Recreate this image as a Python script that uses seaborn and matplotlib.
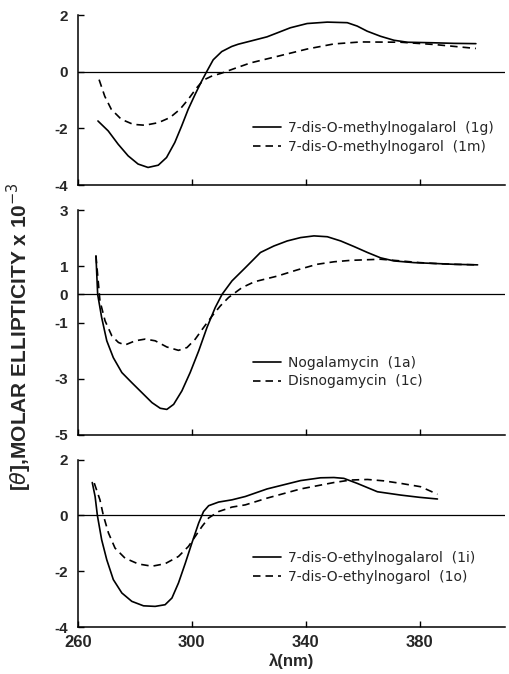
import numpy as np
import pandas as pd
import seaborn as sns
import matplotlib
matplotlib.use("Agg")
import matplotlib.pyplot as plt

# CD spectra: wavelength (nm) and [theta] x 10^-3
# top panel
nm_1g = [267.0, 270.6, 274.1, 277.6, 281.1, 284.6, 288.2, 291.1, 294.0, 296.4,
         298.7, 301.1, 303.4, 305.2, 307.5, 310.5, 314.0, 316.3, 320.6, 326.4,
         330.0, 334.6, 340.5, 347.6, 354.6, 358.1, 361.6, 366.3, 371.0, 375.7,
         385.1, 392.0, 399.8]
val_1g = [-1.74, -2.09, -2.56, -2.97, -3.26, -3.38, -3.30, -3.03, -2.50, -1.92,
          -1.33, -0.81, -0.34, 0.00, 0.42, 0.71, 0.89, 0.97, 1.08, 1.23,
          1.37, 1.55, 1.70, 1.75, 1.73, 1.61, 1.43, 1.25, 1.11, 1.04,
          1.02, 1.00, 0.99]
nm_1m = [267.4, 269.4, 271.7, 275.2, 279.4, 283.5, 288.2, 292.3, 295.8, 298.7,
         301.7, 304.0, 306.9, 310.5, 315.2, 320.6, 330.0, 340.5, 349.9, 359.3,
         373.4, 385.1, 399.8]
val_1m = [-0.28, -0.87, -1.33, -1.68, -1.86, -1.89, -1.80, -1.62, -1.33, -0.98,
          -0.57, -0.30, -0.16, -0.05, 0.12, 0.31, 0.54, 0.80, 0.98, 1.05,
          1.04, 0.96, 0.82]

# middle panel
nm_1a = [266.3, 266.9, 268.3, 270.1, 272.4, 275.4, 278.9, 282.4, 286.0, 288.9,
         291.2, 293.6, 296.5, 299.4, 302.4, 305.3, 308.2, 310.6, 314.1, 318.8,
         324.1, 328.8, 333.5, 338.2, 342.9, 347.6, 352.3, 357.0, 361.7, 366.3,
         371.0, 378.0, 385.1, 392.0, 400.4]
val_1a = [1.37, 0.00, -0.82, -1.65, -2.25, -2.78, -3.14, -3.49, -3.85, -4.05,
          -4.09, -3.91, -3.43, -2.78, -2.01, -1.18, -0.47, 0.00, 0.48, 0.95,
          1.49, 1.72, 1.90, 2.02, 2.08, 2.05, 1.90, 1.70, 1.49, 1.30,
          1.19, 1.13, 1.10, 1.07, 1.05]
nm_1c = [266.3, 267.7, 269.5, 271.9, 274.2, 276.5, 280.1, 283.6, 287.1, 291.2,
         295.3, 298.3, 301.2, 304.1, 307.1, 310.0, 312.9, 317.6, 322.0, 330.0,
         337.0, 344.0, 350.0, 355.8, 366.3, 373.4, 380.0, 385.1, 392.0, 400.4]
val_1c = [1.37, -0.23, -0.94, -1.48, -1.71, -1.80, -1.65, -1.59, -1.65, -1.87,
          -1.99, -1.89, -1.59, -1.18, -0.77, -0.41, -0.11, 0.24, 0.45, 0.65,
          0.87, 1.07, 1.16, 1.21, 1.25, 1.19, 1.13, 1.10, 1.07, 1.05]

# bottom panel
nm_1i = [265.0, 266.0, 266.8, 268.3, 270.1, 272.4, 275.4, 278.9, 283.0, 287.1,
         290.6, 293.0, 295.3, 297.7, 300.0, 302.4, 304.1, 305.9, 309.4, 314.1,
         318.8, 326.4, 338.2, 345.2, 349.9, 353.4, 358.1, 365.2, 373.4, 380.0,
         386.3]
val_1i = [1.18, 0.68, 0.00, -0.87, -1.59, -2.30, -2.78, -3.08, -3.24, -3.26,
          -3.20, -2.96, -2.42, -1.71, -0.99, -0.27, 0.14, 0.35, 0.48, 0.56,
          0.68, 0.95, 1.25, 1.35, 1.36, 1.33, 1.15, 0.85, 0.73, 0.65,
          0.59]
nm_1o = [265.7, 267.7, 268.9, 270.7, 273.0, 276.5, 281.2, 286.0, 290.6, 295.3,
         298.8, 301.2, 303.6, 305.9, 309.4, 314.1, 318.8, 326.4, 338.2, 349.9,
         355.8, 361.7, 367.5, 373.4, 380.4, 386.3]
val_1o = [1.16, 0.56, 0.00, -0.63, -1.17, -1.53, -1.74, -1.82, -1.73, -1.47,
          -1.11, -0.75, -0.39, -0.09, 0.14, 0.30, 0.38, 0.62, 0.95, 1.18,
          1.27, 1.29, 1.24, 1.15, 1.03, 0.76]

panels = [
    (nm_1g, val_1g, nm_1m, val_1m,
     ["7-dis-O-methylnogalarol  (1g)", "7-dis-O-methylnogarol  (1m)"],
     [-4, 2], [-4, -2, 0, 2]),
    (nm_1a, val_1a, nm_1c, val_1c,
     ["Nogalamycin  (1a)", "Disnogamycin  (1c)"],
     [-5, 3], [-5, -3, -1, 0, 1, 3]),
    (nm_1i, val_1i, nm_1o, val_1o,
     ["7-dis-O-ethylnogalarol  (1i)", "7-dis-O-ethylnogarol  (1o)"],
     [-4, 2], [-4, -2, 0, 2]),
]
x_ticks = [260, 300, 340, 380]

sns.set_theme(style="white")
plt.rcParams["font.family"] = ["Liberation Sans", "DejaVu Sans"]
plt.rcParams["axes.unicode_minus"] = False

fig = plt.figure(figsize=(5.1, 6.74), dpi=100)
# axes boxes (left, bottom, width, height) in figure fractions
boxes = [(0.153, 0.7255, 0.837, 0.2522),
         (0.153, 0.3546, 0.837, 0.3338),
         (0.153, 0.0697, 0.837, 0.2483)]
legend_y = [0.28, 0.28, 0.355]

for i, (x1, y1, x2, y2, names, ylim, yticks) in enumerate(panels):
    ax = fig.add_axes(boxes[i])
    df = pd.concat([
        pd.DataFrame({"nm": x1, "theta": y1, "cpd": names[0]}),
        pd.DataFrame({"nm": x2, "theta": y2, "cpd": names[1]}),
    ])
    sns.lineplot(data=df, x="nm", y="theta", style="cpd",
                 dashes={names[0]: "", names[1]: (4.5, 3)},
                 color="black", linewidth=1.2, legend=False, ax=ax,
                 solid_joinstyle="round", dash_joinstyle="round")
    handles = list(ax.lines[:2])
    ax.axhline(0, color="black", linewidth=0.9)

    ax.set_xlim(260, 410)
    ax.set_ylim(*ylim)
    ax.set_xticks(x_ticks)
    ax.set_yticks(yticks)
    ax.set_xlabel("")
    ax.set_ylabel("")
    for s in ["top", "right"]:
        ax.spines[s].set_visible(False)
    for s in ["left", "bottom"]:
        ax.spines[s].set_color("black")
        ax.spines[s].set_linewidth(1.1)
    ax.tick_params(axis="both", direction="in", length=4, width=1.0,
                   color="black", left=True, bottom=True)
    ax.tick_params(axis="y", labelsize=11, pad=7)
    ax.tick_params(axis="x", labelsize=12, pad=6)
    for lab in ax.get_yticklabels() + ax.get_xticklabels():
        lab.set_fontweight("bold")
    if i < 2:
        ax.tick_params(axis="x", labelbottom=False)
    else:
        ax.set_xlabel("λ(nm)", fontsize=12, fontweight="bold", labelpad=2)

    ax.legend(handles, names, loc="center left",
              bbox_to_anchor=(0.41, legend_y[i]), frameon=False,
              prop={"family": "DejaVu Sans", "size": 10},
              handlelength=2.0, handletextpad=0.5, labelspacing=0.35,
              borderpad=0, borderaxespad=0)

fig.text(0.038, 0.5, r"[$\theta$],MOLAR ELLIPTICITY x 10$^{-3}$",
         rotation=90, ha="center", va="center", fontsize=15, fontweight="bold")

fig.savefig("out.png", dpi=100)
